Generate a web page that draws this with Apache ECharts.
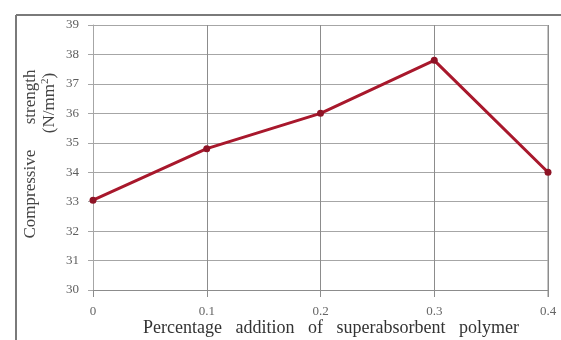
<!DOCTYPE html>
<html><head><meta charset="utf-8">
<script src="https://cdn.jsdelivr.net/npm/echarts@6/dist/echarts.min.js"></script>
<style>html,body{margin:0;padding:0;background:#fff}#c{width:561px;height:340px}</style>
</head><body><div id="c"></div>
<script>
var xValues = [0, 0.1, 0.2, 0.3, 0.4];
var strength = [33.05, 34.8, 36.0, 37.8, 34.0];
var xAxisTitle = 'Percentage   addition   of   superabsorbent   polymer';
var yAxisTitle1 = 'Compressive      strength';
var yAxisTitle2 = '(N/mm{s|2})';

var chart = echarts.init(document.getElementById('c'));
var serif = '"Liberation Serif", "DejaVu Serif", serif';
chart.setOption({
  animation: false,
  backgroundColor: '#fff',
  grid: {left: 93, right: 13, top: 25, bottom: 50, containLabel: false},
  xAxis: {
    type: 'value', min: 0, max: 0.4, interval: 0.1,
    axisLine: {show: true, lineStyle: {color: '#8c8c8c', width: 1}},
    axisTick: {show: true, length: 7, lineStyle: {color: '#8c8c8c'}},
    splitLine: {show: true, lineStyle: {color: '#8c8c8c', width: 1}},
    axisLabel: {color: '#666', fontFamily: serif, fontSize: 13, margin: 15,
      formatter: function (v) { return String(Math.round(v * 10) / 10); }}
  },
  yAxis: {
    type: 'value', min: 30, max: 39, interval: 1,
    axisLine: {show: true, lineStyle: {color: '#a6a6a6', width: 1}},
    axisTick: {show: true, length: 5, lineStyle: {color: '#a6a6a6'}},
    splitLine: {show: true, lineStyle: {color: '#a6a6a6', width: 1}},
    axisLabel: {color: '#5e5e5e', fontFamily: serif, fontSize: 13, margin: 14}
  },
  graphic: [
    {type: 'line', shape: {x1: 16, y1: 15, x2: 16, y2: 340}, style: {stroke: '#7a7a7a', lineWidth: 2}},
    {type: 'line', shape: {x1: 16, y1: 15, x2: 561, y2: 15}, style: {stroke: '#7a7a7a', lineWidth: 2}},
    {type: 'line', shape: {x1: 548, y1: 25, x2: 548, y2: 297}, style: {stroke: '#8c8c8c', lineWidth: 1}},
    {type: 'text', x: 331, y: 328,
      style: {text: xAxisTitle, fill: '#333', font: '18px ' + serif, align: 'center', verticalAlign: 'middle'}},
    {type: 'text', x: 22, y: 154, rotation: Math.PI / 2,
      style: {text: yAxisTitle1, fill: '#444', font: '17px ' + serif, align: 'center', verticalAlign: 'top'}},
    {type: 'text', x: 40, y: 103, rotation: Math.PI / 2,
      style: {text: yAxisTitle2, fill: '#444', font: '17px ' + serif, align: 'center', verticalAlign: 'top',
        rich: {s: {fontSize: 11, verticalAlign: 'top', fontFamily: serif, fill: '#444', padding: [0,0,8,0]}}}}
  ],
  series: [{
    type: 'line',
    data: xValues.map(function (x, i) { return [x, strength[i]]; }),
    symbol: 'circle', symbolSize: 7, showSymbol: true,
    lineStyle: {color: '#a8182c', width: 3},
    itemStyle: {color: '#8e1426'}
  }]
});
</script></body></html>
